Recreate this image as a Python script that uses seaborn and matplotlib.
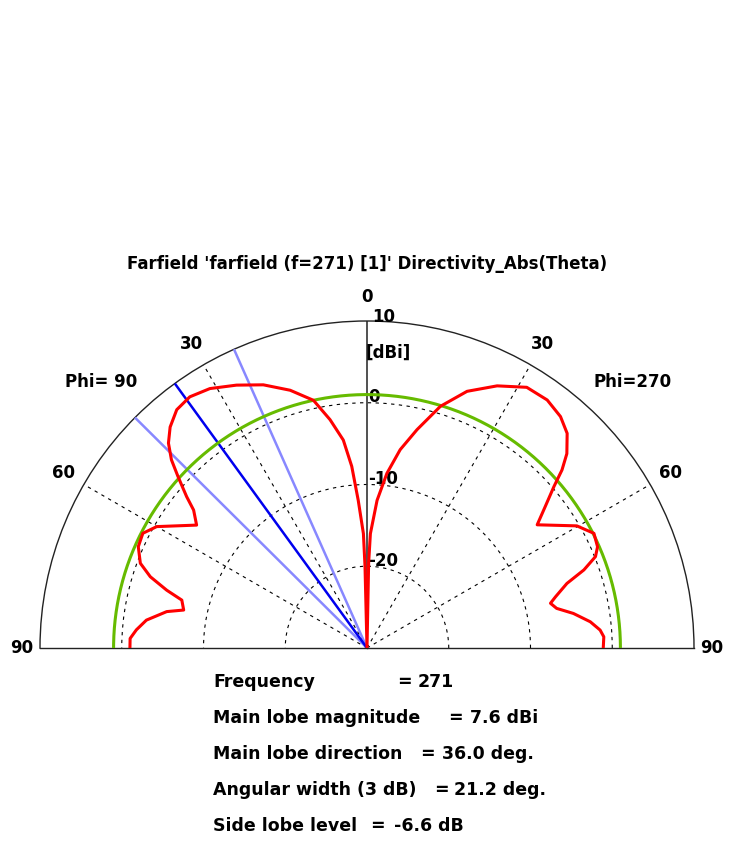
import numpy as np
import pandas as pd
import matplotlib
matplotlib.use("Agg")
import matplotlib.pyplot as plt
import seaborn as sns

# Directivity (dBi) vs theta (deg)
theta_phi90 = [0, 1.4, 1.8, 3.4, 4.8, 6.5, 9.2, 12.2, 16.6, 21.5, 26.4, 31.2, 35.2, 38.6, 41.7, 44.1,
               46.1, 47.8, 50.0, 51.5, 54.2, 60.0, 62.9, 66.1, 69.5, 71.8, 73.9, 75.5, 78.3, 79.7,
               82.8, 85.5, 87.7, 90]
dir_phi90 = [-30, -19.9, -16.0, -11.9, -7.7, -4.4, -1.7, 1.0, 2.9, 4.6, 5.9, 7.1, 7.6, 7.3, 6.2, 4.9,
             3.2, 1.2, -1.2, -2.9, -4.3, -0.3, 0.8, 0.6, -0.4, -2.1, -4.5, -6.6, -7.1, -5.1,
             -2.8, -1.7, -1.0, -1.0]
theta_phi270 = [0, 1.1, 1.7, 3.9, 6.5, 9.5, 12.9, 16.9, 21.3, 26.4, 31.5, 36.0, 39.9, 43.0, 45.8,
                47.6, 49.2, 51.6, 54.1, 59.8, 63.2, 66.3, 68.2, 70.2, 72.1, 74.8, 76.3, 78.2, 80.5,
                83.3, 85.6, 87.3, 90]
dir_phi270 = [-30, -19.6, -16.0, -11.9, -8.5, -5.4, -2.6, 0.9, 3.7, 5.8, 7.4, 7.5, 6.9, 5.9, 4.1,
              2.3, 0.2, -2.2, -4.3, -0.3, 1.1, 0.8, 0.1, -1.8, -4.3, -6.1, -6.9, -6.3, -4.4,
              -2.5, -1.4, -1.0, -1.1]

main_lobe_dir = 36.0
beam_edges = [24.0, 45.2]
side_lobe_db = 1.0  # 7.6 dBi - 6.6 dB
r_min, r_max = -30, 10
r_grid = [-20, -10, 0]
angle_ticks = [30, 60]

info_names = ["Frequency", "Main lobe magnitude", "Main lobe direction",
              "Angular width (3 dB)", "Side lobe level"]
info_values = ["271", "7.6 dBi", "36.0 deg.", "21.2 deg.", "-6.6 dB"]
info_eq_x = [397, 448, 420, 434, 370]
info_val_x = [418, 470, 442, 454, 394]

# left side (Phi=90) -> positive theta, right side (Phi=270) -> negative theta
df = pd.DataFrame({
    "theta": np.deg2rad([-t for t in theta_phi270[::-1]] + theta_phi90[1:]),
    "r": dir_phi270[::-1] + dir_phi90[1:],
})

fig = plt.figure(figsize=(7.35, 8.42), dpi=100)
# square box, the half disc is fitted into its middle
ax = fig.add_axes([40 / 735, 30.5 / 842, 654 / 735, 654 / 842], projection="polar")
ax.set_theta_zero_location("N")
ax.set_thetamin(-90)
ax.set_thetamax(90)
ax.set_ylim(r_min, r_max)

ax.set_xticks(np.deg2rad([-60, -30, 30, 60]))
ax.set_xticklabels([])
ax.set_yticks(r_grid)
ax.set_yticklabels([])
ax.grid(True, color="black", linestyle=(0, (3, 4)), linewidth=0.8)
ax.tick_params(length=0)
for name, sp in ax.spines.items():
    sp.set_color("#222222")
    sp.set_linewidth(1.0)

# vertical axis line
ax.plot([0, 0], [r_min, r_max], color="#333333", lw=1.2, zorder=2)

# 3 dB beam edges and main lobe direction
for b in beam_edges:
    ax.plot(np.deg2rad([b, b]), [r_min, r_max], color="#8888ff", lw=1.8, zorder=3)
ax.plot(np.deg2rad([main_lobe_dir, main_lobe_dir]), [r_min, r_max], color="#0000ee", lw=1.8, zorder=3)

# side lobe level circle
arc = np.linspace(-np.pi / 2, np.pi / 2, 200)
ax.plot(arc, np.full_like(arc, side_lobe_db), color="#66bb00", lw=2.2, zorder=4)

sns.lineplot(data=df, x="theta", y="r", sort=False, estimator=None, color="red",
             lw=2.2, ax=ax, zorder=5)
ax.set_xlabel("")
ax.set_ylabel("")

bold = dict(fontfamily="DejaVu Sans", fontweight="bold", fontsize=12)
# angle labels
ax.text(0, 12.9, "0", ha="center", va="center", clip_on=False, **bold)
for a in angle_ticks:
    ax.text(np.deg2rad(a), 12.9, str(a), ha="center", va="center", clip_on=False, **bold)
    ax.text(np.deg2rad(-a), 12.9, str(a), ha="center", va="center", clip_on=False, **bold)
ax.text(np.deg2rad(90), 12.2, "90", ha="center", va="center", clip_on=False, **bold)
ax.text(np.deg2rad(-90), 12.2, "90", ha="center", va="center", clip_on=False, **bold)
ax.text(np.deg2rad(45), 16.0, "Phi= 90", ha="center", va="center", clip_on=False, **bold)
ax.text(np.deg2rad(-45), 16.0, "Phi=270", ha="center", va="center", clip_on=False, **bold)

# radial labels
ax.annotate("10", xy=(0, r_max), xytext=(4, 3), textcoords="offset points",
            ha="left", va="center", annotation_clip=False, **bold)
ax.annotate("[dBi]", xy=(0, r_max), xytext=(-1, -23), textcoords="offset points",
            ha="left", va="center", annotation_clip=False, **bold)
for v in r_grid:
    ax.annotate(str(v), xy=(0, v), xytext=(1, 4), textcoords="offset points",
                ha="left", va="center", **bold)

fig.text(367 / 735, 1 - 264 / 842, "Farfield 'farfield (f=271) [1]' Directivity_Abs(Theta)",
         ha="center", va="center", fontfamily="DejaVu Sans", fontweight="bold", fontsize=12)

info = dict(bold, fontsize=12.5)
for i, (name, val) in enumerate(zip(info_names, info_values)):
    y = 1 - (682 + 36 * i) / 842
    fig.text(213 / 735, y, name, ha="left", va="center", **info)
    fig.text(info_eq_x[i] / 735, y, "=", ha="left", va="center", **info)
    fig.text(info_val_x[i] / 735, y, val, ha="left", va="center", **info)

fig.savefig("out.png", dpi=100)
